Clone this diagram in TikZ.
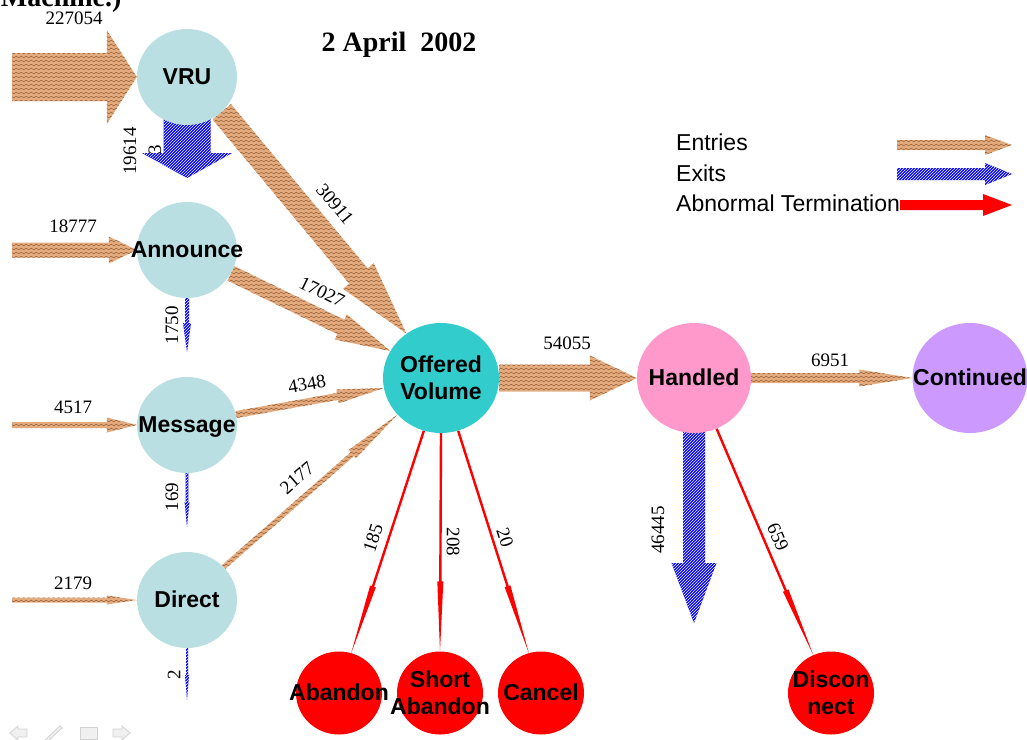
\documentclass[tikz,border=0pt]{standalone}
\usepackage{fontspec}
\setmainfont{Liberation Serif}
\setsansfont{Liberation Sans}
\usetikzlibrary{shapes.geometric,calc,backgrounds,patterns}

\definecolor{queueblue}{RGB}{185,223,226}
\definecolor{offercyan}{RGB}{51,204,204}
\definecolor{handlepink}{RGB}{255,153,204}
\definecolor{contlilac}{RGB}{204,153,255}
\definecolor{entrytan}{RGB}{228,172,126}
\definecolor{entrywave}{RGB}{150,95,55}

% wavy texture of the entry arrows
\pgfdeclarepatternformonly{wavy}{\pgfpoint{-1pt}{-1pt}}{\pgfpoint{6pt}{5pt}}{\pgfpoint{5pt}{4pt}}{%
  \pgfsetlinewidth{0.45pt}
  \pgfpathmoveto{\pgfpoint{0pt}{2pt}}
  \pgfpathcurveto{\pgfpoint{0.8pt}{3.1pt}}{\pgfpoint{1.7pt}{3.1pt}}{\pgfpoint{2.5pt}{2pt}}
  \pgfpathcurveto{\pgfpoint{3.3pt}{0.9pt}}{\pgfpoint{4.2pt}{0.9pt}}{\pgfpoint{5pt}{2pt}}
  \pgfusepath{stroke}}

% block arrow: style, from, to, shaft half width, head half width, head length
\newcommand{\blockarrow}[6]{%
  \coordinate (hb) at ($(#3)!#6pt!(#2)$);
  \path[#1] ($(#2)!#4pt!90:(#3)$) -- ($(hb)!#4pt!90:(#3)$) -- ($(hb)!#5pt!90:(#3)$) -- (#3)
    -- ($(hb)!#5pt!-90:(#3)$) -- ($(hb)!#4pt!-90:(#3)$) -- ($(#2)!#4pt!-90:(#3)$) -- cycle;
}
% node text that may stick out of its circle
\newcommand{\statetext}[1]{\makebox[0pt]{\raisebox{-8.5pt}[0pt][0pt]{\begin{tabular}{@{}c@{}}#1\end{tabular}}}}

\begin{document}
\begin{tikzpicture}[x=1pt, y=-1pt,
  state/.style={ellipse, inner sep=0pt, font=\fontsize{23}{27}\selectfont\sffamily\bfseries},
  queue/.style={state, fill=queueblue, minimum width=100pt, minimum height=96pt},
  outcome/.style={state, fill=red, minimum width=86pt, minimum height=83pt},
  num/.style={font=\fontsize{19}{20}\selectfont, inner sep=1pt},
  legend/.style={font=\fontsize{23}{25}\selectfont\sffamily, anchor=west, inner sep=0pt},
  entry/.style={preaction={fill=entrytan}, pattern=wavy, pattern color=entrywave},
  exit/.style={preaction={fill=blue}, pattern=north east lines, pattern color=white},
  abnormal/.style={fill=red},
  navicon/.style={fill=gray!12, draw=gray!35, line width=0.8pt},
]
\clip (0,0) rectangle (1027,739);

% Title
\node[font=\fontsize{28}{30}\selectfont\bfseries, anchor=base east] (cut) at (125,6) {Machine.)};
\node[font=\fontsize{28}{30}\selectfont\bfseries] (title) at (399,45) {2 April\ \ 2002};

% Queues on the left
\node[queue] (vru) at (187,77) {\statetext{VRU}};
\node[queue] (ann) at (187,250) {\statetext{Announce}};
\node[queue] (msg) at (187,425) {\statetext{Message}};
\node[queue] (dir) at (187,600) {\statetext{Direct}};

% Middle and right
\node[state, fill=offercyan, minimum width=116pt, minimum height=110pt] (ov) at (441,378) {\statetext{Offered\\Volume}};
\node[state, fill=handlepink, minimum width=114pt, minimum height=110pt] (hnd) at (694,378) {\statetext{Handled}};
\node[state, fill=contlilac, minimum width=115pt, minimum height=110pt] (cont) at (970,378) {\statetext{Continued}};

% Terminations
\node[outcome] (aband) at (339,693) {\statetext{Abandon}};
\node[outcome] (short) at (440,693) {\statetext{Short\\Abandon}};
\node[outcome] (canc) at (541,693) {\statetext{Cancel}};
\node[outcome] (disc) at (831,693) {\statetext{Discon\\nect}};

% Free ends
\coordinate (in1) at (12,77);
\coordinate (in2) at (12,250);
\coordinate (in3) at (12,425);
\coordinate (in4) at (12,600);
\coordinate (out1) at (187,178);
\coordinate (out2) at (187,352);
\coordinate (out3) at (187,527);
\coordinate (out4) at (187,700);
\coordinate (out5) at (694,623);

% Legend
\node[legend] (lgent) at (676,142) {Entries};
\node[legend] (lgexit) at (676,173) {Exits};
\node[legend] (lgabn) at (676,203) {Abnormal Termination};
\coordinate (le1) at (897,145);
\coordinate (le2) at (1012,145);
\coordinate (lx1) at (897,174);
\coordinate (lx2) at (1012,174);
\coordinate (la1) at (900,205);
\coordinate (la2) at (1012,205);

\begin{scope}[on background layer]
  % entries
  \blockarrow{entry}{in1}{vru.west}{24}{47}{30}
  \blockarrow{entry}{in2}{ann.west}{7.5}{13.5}{28}
  \blockarrow{entry}{in3}{msg.west}{3}{7.5}{30}
  \blockarrow{entry}{in4}{dir.west}{2.5}{4.5}{30}
  \blockarrow{entry}{vru.-45}{ov.128}{12}{20}{75}
  \blockarrow{entry}{ann.-28}{ov.152}{8}{14}{55}
  \blockarrow{entry}{msg.12}{ov.190}{3.5}{7}{47}
  \blockarrow{entry}{dir.42}{ov.220}{2.5}{5.5}{60}
  \blockarrow{entry}{ov.east}{hnd.west}{13.5}{22.5}{47}
  \blockarrow{entry}{hnd.east}{cont.west}{5}{8.5}{53}
  % exits
  \blockarrow{exit}{vru.center}{out1}{23.5}{45}{25}
  \blockarrow{exit}{ann.south}{out2}{2}{4}{29}
  \blockarrow{exit}{msg.south}{out3}{1.3}{2.4}{25}
  \blockarrow{exit}{dir.south}{out4}{1}{2}{25}
  \blockarrow{exit}{hnd.center}{out5}{11}{22.5}{60}
  % abnormal
  \blockarrow{abnormal}{ov.-108}{aband.73}{1.2}{3}{70}
  \blockarrow{abnormal}{ov.south}{short.north}{1.2}{3}{70}
  \blockarrow{abnormal}{ov.-72}{canc.107}{1.2}{3}{70}
  \blockarrow{abnormal}{hnd.-66}{disc.115}{1.2}{3}{70}
  % legend
  \blockarrow{entry}{le1}{le2}{5}{10}{27}
  \blockarrow{exit}{lx1}{lx2}{6}{11}{27}
  \blockarrow{abnormal}{la1}{la2}{5}{11}{29}
\end{scope}

% Counts
\node[num] (n227054) at (74,18) {227054};
\node[num] (n18777) at (73,226) {18777};
\node[num] (n4517) at (73,407) {4517};
\node[num] (n2179) at (73,583) {2179};
\node[num, rotate=90] (n19614) at (130,151) {19614};
\node[num, rotate=90] (n3) at (155,150) {3};
\node[num, rotate=90] (n1750) at (172,325) {1750};
\node[num, rotate=90] (n169) at (172,497) {169};
\node[num, rotate=90] (n2) at (174,675) {2};
\node[num, rotate=-50] (n30911) at (335,204) {30911};
\node[num, rotate=-26] (n17027) at (322,292) {17027};
\node[num, rotate=10] (n4348) at (307,384) {4348};
\node[num, rotate=41] (n2177) at (297,478) {2177};
\node[num] (n54055) at (567,343) {54055};
\node[num] (n6951) at (830,360) {6951};
\node[num, rotate=72] (n185) at (373,538) {185};
\node[num, rotate=-90] (n208) at (453,542) {208};
\node[num, rotate=-72] (n20) at (505,538) {20};
\node[num, rotate=90] (n46445) at (658,530) {46445};
\node[num, rotate=-67] (n659) at (778,537) {659};

% Slide controls
\path[navicon] (10,733) -- (18,726) -- (18,729) -- (27,729) -- (27,737) -- (18,737) -- (18,740) -- cycle;
\path[navicon] (45,740) -- (60,726) -- (62,728) -- (47,742) -- cycle;
\path[navicon] (80,727) rectangle (97,739);
\path[navicon] (130,733) -- (122,726) -- (122,729) -- (113,729) -- (113,737) -- (122,737) -- (122,740) -- cycle;
\end{tikzpicture}
\end{document}
